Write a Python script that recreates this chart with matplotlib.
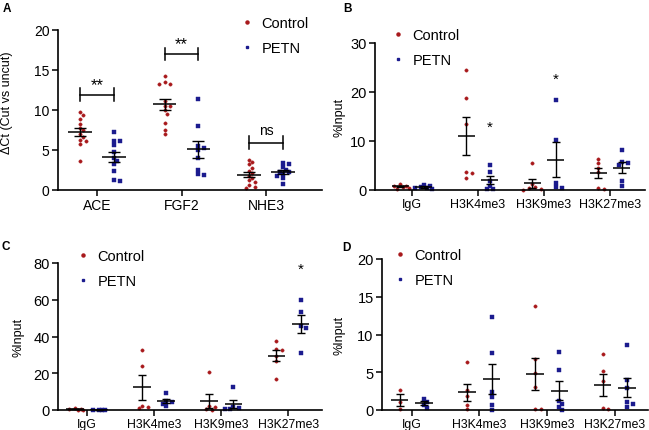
import numpy as np
import matplotlib.pyplot as plt
from matplotlib.lines import Line2D

plt.rcParams['font.family'] = ['Liberation Sans', 'DejaVu Sans']

# ---- data ----
# panel A: delta Ct per gene
genes = ['ACE', 'FGF2', 'NHE3']
a_ctrl = [
    [9.75, 9.4, 8.9, 8.25, 7.75, 7.45, 6.95, 6.65, 6.3, 6.15, 5.7, 3.6],
    [14.25, 13.5, 13.3, 13.3, 11.1, 10.5, 10.45, 9.95, 9.55, 8.4, 7.45, 6.95],
    [3.8, 3.5, 3.2, 2.8, 2.4, 2.1, 1.8, 1.5, 1.2, 1.0, 0.6, 0.4, 0.3],
]
a_petn = [
    [7.2, 6.1, 6.1, 5.6, 4.8, 4.0, 3.6, 3.3, 2.4, 1.3, 1.1],
    [11.4, 8.0, 5.5, 5.3, 5.0, 4.0, 2.5, 2.0, 1.9],
    [3.4, 3.3, 2.9, 2.5, 2.3, 2.2, 2.0, 1.8, 1.5, 0.8],
]
a_sig = ['**', '**', 'ns']
a_bracket_y = [11.9, 17.0, 5.9]

# panels B-D: ChIP %input
marks = ['IgG', 'H3K4me3', 'H3K9me3', 'H3K27me3']
b_ctrl = [
    [1.2, 0.9, 0.8, 0.6, 0.5, 0.3],
    [24.5, 18.75, 13.5, 3.6, 3.4, 2.4],
    [5.5, 1.3, 0.6, 0.4, 0.2, 0.1],
    [6.4, 5.6, 4.5, 3.6, 0.5, 0.3],
]
b_petn = [
    [1.1, 0.8, 0.6, 0.5, 0.4, 0.3],
    [5.2, 3.6, 1.9, 0.8, 0.3, 0.2],
    [18.3, 10.2, 1.5, 0.6, 0.4],
    [8.1, 5.8, 5.5, 5.1, 1.8, 0.9],
]
b_stars = {1: 13.0, 2: 22.7}

c_ctrl = [
    [1.0, 0.5, 0.3, 0.2, 0.2],
    [32.7, 24.2, 2.4, 1.5, 0.9],
    [20.5, 2.4, 1.5, 0.5, 0.2],
    [37.8, 33.3, 32.9, 29.6, 26.9, 16.9],
]
c_petn = [
    [0.2, 0.1, 0.1, 0.1],
    [9.3, 5.1, 4.2, 3.3, 2.0],
    [12.3, 1.8, 1.0, 0.5, 0.3],
    [59.6, 53.6, 45.6, 44.5, 30.9],
]
c_stars = {3: 77.0}

d_ctrl = [
    [2.7, 1.1, 0.1],
    [6.4, 2.7, 1.9, 0.6, 0.1],
    [13.8, 6.8, 4.9, 3.1, 0.1, 0.1],
    [7.4, 5.1, 3.8, 0.2, 0.1],
]
d_petn = [
    [1.5, 1.1, 0.6, 0.3],
    [12.3, 7.6, 2.4, 1.7, 0.7, 0.05],
    [7.7, 5.3, 1.2, 0.8, 0.35, 0.05],
    [8.65, 4.0, 2.9, 1.0, 0.8, 0.35],
]

RED = '#a8191c'
BLUE = '#1b1b8e'
W, H = 649, 431

fig = plt.figure(figsize=(W / 100, H / 100), dpi=100)


def px_axes(l, r, t, b):
    return fig.add_axes([l / W, 1 - b / H, (r - l) / W, (b - t) / H])


def swarm(vals, cx, sx, sy, diam=3.6, maxoff=9.0):
    # spread points sideways so they mostly do not overlap (pixel space)
    vals = np.asarray(vals, float)
    xs = np.zeros(len(vals))
    placed = []
    for i in np.argsort(-vals):
        y = vals[i] * sy
        best, best_d = 0.0, -1
        k = 0
        while True:
            off = ((k + 1) // 2) * (1 if k % 2 else -1) * diam * 0.8
            if abs(off) > maxoff:
                break
            d = min([np.hypot(off - px, y - py) for px, py in placed] or [99])
            if d >= diam:
                best = off
                break
            if d > best_d:
                best, best_d = off, d
            k += 1
        placed.append((best, y))
        xs[i] = cx + best / sx
    return xs


def style(ax, ylim, yticks, xlim, xlabels, xfs, yfs):
    ax.set_ylim(*ylim)
    ax.set_xlim(*xlim)
    ax.set_yticks(yticks)
    ax.set_xticks(range(len(xlabels)))
    ax.set_xticklabels(xlabels, fontsize=xfs)
    ax.tick_params(axis='y', labelsize=yfs, length=4, width=1.1, pad=2)
    ax.tick_params(axis='x', length=4, width=1.1, pad=2)
    for s in ['top', 'right']:
        ax.spines[s].set_visible(False)
    for s in ['left', 'bottom']:
        ax.spines[s].set_linewidth(1.2)
    ax.patch.set_alpha(0)


def draw_groups(ax, ctrl, petn, off, mw, cap, box):
    l, r, t, b = box
    sx = (r - l) / (ax.get_xlim()[1] - ax.get_xlim()[0])
    sy = (b - t) / (ax.get_ylim()[1] - ax.get_ylim()[0])
    for i in range(len(ctrl)):
        for vals, dx, col, mk in [(ctrl[i], -off, RED, 'o'), (petn[i], off, BLUE, 's')]:
            vals = np.asarray(vals, float)
            cx = i + dx
            xs = swarm(vals, cx, sx, sy)
            ax.plot(xs, vals, mk, color=col, ms=2.4 if mk == 'o' else 2.3,
                    mec=col, mew=0.3, clip_on=False, zorder=2)
            m = vals.mean()
            sem = vals.std(ddof=1) / np.sqrt(len(vals))
            ax.hlines(m, cx - mw, cx + mw, color='black', lw=1.1, zorder=3)
            ax.errorbar(cx, m, yerr=sem, color='black', lw=1.0, capsize=cap,
                        capthick=1.0, zorder=3, clip_on=False)


def legend(ax, x, y, fs):
    hs = [Line2D([], [], ls='none', marker='o', ms=2.2, color=RED),
          Line2D([], [], ls='none', marker='s', ms=2.1, color=BLUE)]
    ax.legend(hs, ['Control', 'PETN'], loc='upper left',
              bbox_to_anchor=(x / W, 1 - y / H), bbox_transform=fig.transFigure,
              frameon=False, fontsize=fs, handlelength=0.8, handletextpad=0.6,
              labelspacing=0.75, borderpad=0, borderaxespad=0)


# ---- panel A ----
boxA = (58, 322, 31, 191)
axA = px_axes(*boxA)
style(axA, (0, 20), [0, 5, 10, 15, 20], (-0.46, 2.66), genes, 10, 10)
draw_groups(axA, a_ctrl, a_petn, 0.2, 0.14, 4.2, boxA)
for i, (sig, by) in enumerate(zip(a_sig, a_bracket_y)):
    axA.plot([i - 0.2, i + 0.2], [by, by], color='black', lw=1.1)
    axA.plot([i - 0.2, i - 0.2], [by - 0.8, by + 0.8], color='black', lw=1.1)
    axA.plot([i + 0.2, i + 0.2], [by - 0.8, by + 0.8], color='black', lw=1.1)
    if sig == 'ns':
        axA.text(i, by + 0.7, sig, ha='center', va='bottom', fontsize=10)
    else:
        axA.text(i, by + 0.3, sig, ha='center', va='bottom', fontsize=12)
axA.set_ylabel('ΔCt (Cut vs uncut)', fontsize=9)
axA.yaxis.set_label_coords(-0.17, 0.55)
legend(axA, 241, 17, 10.5)
fig.text(3 / W, 1 - 3 / H, 'A', fontsize=8.5, fontweight='bold', va='top')

# ---- panel B ----
boxB = (375, 645, 44, 191)
axB = px_axes(*boxB)
style(axB, (0, 30), [0, 10, 20, 30], (-0.56, 3.53), marks, 9, 10.5)
draw_groups(axB, b_ctrl, b_petn, 0.18, 0.13, 2.8, boxB)
for i, sy in b_stars.items():
    axB.text(i + 0.18, sy, '*', ha='center', va='center', fontsize=11)
axB.set_ylabel('%Input', fontsize=9)
axB.yaxis.set_label_coords(-0.111, 0.5)
legend(axB, 392, 29, 10.5)
fig.text(343 / W, 1 - 3 / H, 'B', fontsize=8.5, fontweight='bold', va='top')

# ---- panel C ----
boxC = (58, 322, 264, 411)
axC = px_axes(*boxC)
style(axC, (0, 80), [0, 20, 40, 60, 80], (-0.43, 3.5), marks, 8.8, 10.5)
draw_groups(axC, c_ctrl, c_petn, 0.18, 0.13, 2.8, boxC)
for i, sy in c_stars.items():
    axC.text(i + 0.18, sy, '*', ha='center', va='center', fontsize=11)
axC.set_ylabel('%Input', fontsize=9)
axC.yaxis.set_label_coords(-0.125, 0.5)
legend(axC, 77, 250, 10.5)
fig.text(2 / W, 1 - 241 / H, 'C', fontsize=8.5, fontweight='bold', va='top')

# ---- panel D ----
boxD = (382, 648, 260, 411)
axD = px_axes(*boxD)
style(axD, (0, 20), [0, 5, 10, 15, 20], (-0.44, 3.49), marks, 8.8, 10.5)
draw_groups(axD, d_ctrl, d_petn, 0.18, 0.13, 2.8, boxD)
axD.set_ylabel('%Input', fontsize=9)
axD.yaxis.set_label_coords(-0.138, 0.5)
legend(axD, 394, 249, 10.5)
fig.text(342 / W, 1 - 242 / H, 'D', fontsize=8.5, fontweight='bold', va='top')

fig.savefig('out.png', dpi=100)
